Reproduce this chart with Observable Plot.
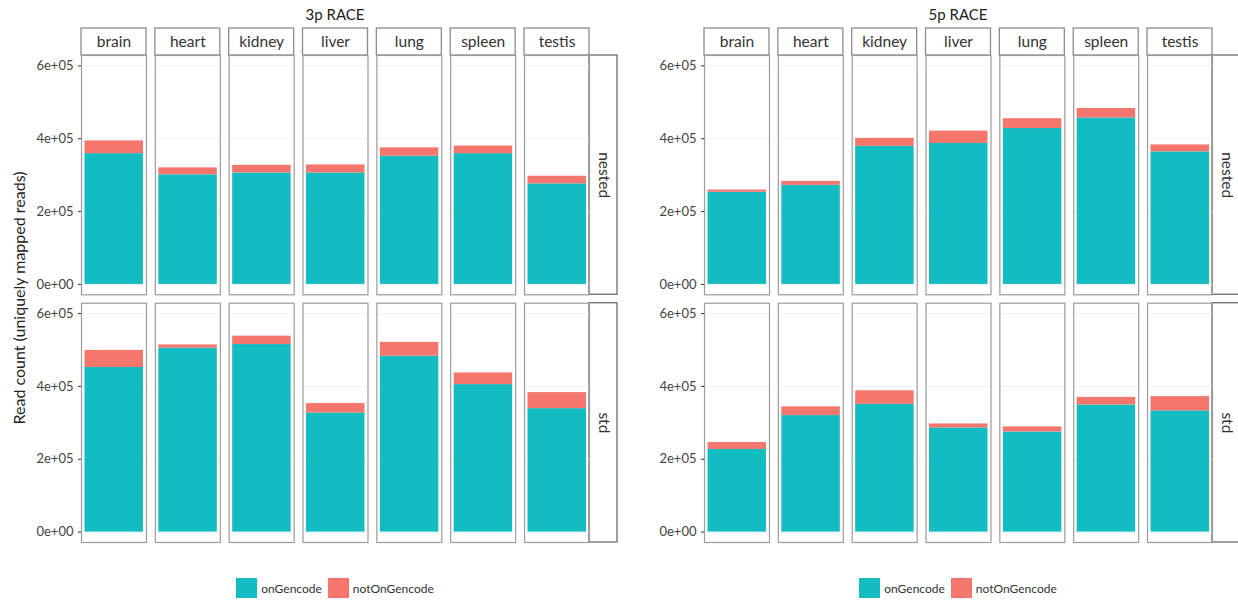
<!DOCTYPE html>
<html>
<head>
<meta charset="utf-8">
<script src="https://cdn.jsdelivr.net/npm/d3@7"></script>
<script src="https://cdn.jsdelivr.net/npm/@observablehq/plot@0.6"></script>
<style>
  html, body { margin: 0; padding: 0; background: #fff; overflow: hidden; }
  body { width: 1238px; height: 602px; position: relative; font-family: Lato, "Open Sans", sans-serif; }
  .panel { position: absolute; top: 0; width: 619px; height: 602px; }
  .title { position: absolute; top: 5px; left: 81px; width: 508px; text-align: center; font-size: 15px; line-height: 18px; color: #222; }
  .plot { position: absolute; top: 20px; left: 0; }
  .legend { position: absolute; top: 578px; left: 81px; width: 508px; display: flex; justify-content: center; align-items: center; font-size: 12px; color: #333; }
  .key { width: 21px; height: 20px; display: inline-block; margin-right: 4px; }
  .item { display: flex; align-items: center; margin: 0 3px; }
  .ytitle { position: absolute; left: 18px; top: 298px; transform: translate(-50%, -50%) rotate(-90deg); white-space: nowrap; font-size: 16px; color: #222; }
</style>
</head>
<body>
<div class="panel" id="p3" style="left:0">
  <div class="title">3p RACE</div>
  <div class="plot"></div>
  <div class="legend"></div>
  <div class="ytitle">Read count (uniquely mapped reads)</div>
</div>
<div class="panel" id="p5" style="left:623px">
  <div class="title">5p RACE</div>
  <div class="plot"></div>
  <div class="legend"></div>
</div>
<script>
// ---- data ----
const tissues = ["brain", "heart", "kidney", "liver", "lung", "spleen", "testis"];
const libraries = ["nested", "std"];
const series = ["onGencode", "notOnGencode"];
const seriesColors = ["#13bcc0", "#f4766c"];
const yTicks = [0, 200000, 400000, 600000];
const yTickLabels = ["0e+00", "2e+05", "4e+05", "6e+05"];

// 3p RACE
const race3pNestedOn    = [359000, 301000, 306000, 306000, 352000, 359000, 276000];
const race3pNestedNotOn = [ 35000,  19000,  21000,  22000,  23000,  21000,  21000];
const race3pStdOn       = [452000, 505000, 515000, 327000, 483000, 405000, 339000];
const race3pStdNotOn    = [ 47000,   9000,  23000,  26000,  38000,  32000,  44000];

// 5p RACE
const race5pNestedOn    = [253000, 272000, 379000, 387000, 428000, 457000, 364000];
const race5pNestedNotOn = [  6000,  11000,  22000,  34000,  27000,  26000,  19000];
const race5pStdOn       = [227000, 320000, 351000, 286000, 275000, 349000, 333000];
const race5pStdNotOn    = [ 19000,  24000,  37000,  11000,  14000,  21000,  39000];

function buildRows(nestedOn, nestedNot, stdOn, stdNot) {
  const rows = [];
  const src = {nested: [nestedOn, nestedNot], std: [stdOn, stdNot]};
  for (const lib of libraries) {
    tissues.forEach((t, i) => {
      rows.push({tissue: t, library: lib, type: series[0], value: src[lib][0][i]});
      rows.push({tissue: t, library: lib, type: series[1], value: src[lib][1][i]});
    });
  }
  return rows;
}

function makeChart(data) {
  const plot = Plot.plot({
    width: 619,
    height: 525,
    marginTop: 35,
    marginBottom: 3,
    marginLeft: 81,
    marginRight: 30,
    style: {fontFamily: "Lato, 'Open Sans', sans-serif", background: "transparent", color: "#333"},
    y: {domain: [-28500, 628500]},
    fx: {domain: tissues, paddingInner: 0.12, paddingOuter: 0, round: false},
    fy: {domain: libraries, paddingInner: 0.034, paddingOuter: 0, round: false},
    color: {domain: series, range: seriesColors},
    marks: [
      Plot.gridY(yTicks, {stroke: "#f0f0f0", strokeOpacity: 1}),
      Plot.barY(data, Plot.stackY({order: null}, {fx: "tissue", fy: "library", y: "value", fill: "type", insetLeft: 3.5, insetRight: 3})),
      Plot.frame({stroke: "#9c9c9c", strokeWidth: 1.2}),
      Plot.axisY(yTicks, {tickSize: 3, tickPadding: 5, fontSize: 13, label: null, stroke: "#333", fill: "#444",
        tickFormat: d => yTickLabels[yTicks.indexOf(d)]}),
      Plot.axisFx({anchor: "top", tickSize: 0, tickPadding: 13.5, lineAnchor: "middle", fontSize: 15.5, label: null, fill: "#333"}),
      Plot.axisFy({anchor: "right", tickSize: 0, tickPadding: 14, tickRotate: 90, textAnchor: "middle", lineAnchor: "middle", fontSize: 15.5, label: null, fill: "#333"})
    ]
  });
  // strip boxes (ggplot-style) positioned from Plot's facet scales
  const fx = plot.scale("fx"), fy = plot.scale("fy");
  const svg = d3.select(plot);
  const g = svg.insert("g", ":first-child").attr("fill", "#fff").attr("stroke", "#8c8c8c").attr("stroke-width", 1.3);
  const top = fy.apply(libraries[0]);
  for (const t of tissues) {
    g.append("rect").attr("x", fx.apply(t)).attr("y", top - 27).attr("width", fx.bandwidth).attr("height", 27);
  }
  const right = fx.apply(tissues[tissues.length - 1]) + fx.bandwidth;
  for (const l of libraries) {
    g.append("rect").attr("x", right).attr("y", fy.apply(l)).attr("width", 28).attr("height", fy.bandwidth)
      .attr("stroke", "#6e6e6e");
  }
  return plot;
}

function makeLegend(el) {
  series.forEach((s, i) => {
    const item = document.createElement("div");
    item.className = "item";
    const key = document.createElement("span");
    key.className = "key";
    key.style.background = seriesColors[i];
    item.appendChild(key);
    item.appendChild(document.createTextNode(s));
    el.appendChild(item);
  });
}

document.querySelector("#p3 .plot").appendChild(makeChart(buildRows(race3pNestedOn, race3pNestedNotOn, race3pStdOn, race3pStdNotOn)));
document.querySelector("#p5 .plot").appendChild(makeChart(buildRows(race5pNestedOn, race5pNestedNotOn, race5pStdOn, race5pStdNotOn)));
makeLegend(document.querySelector("#p3 .legend"));
makeLegend(document.querySelector("#p5 .legend"));
</script>
</body>
</html>
